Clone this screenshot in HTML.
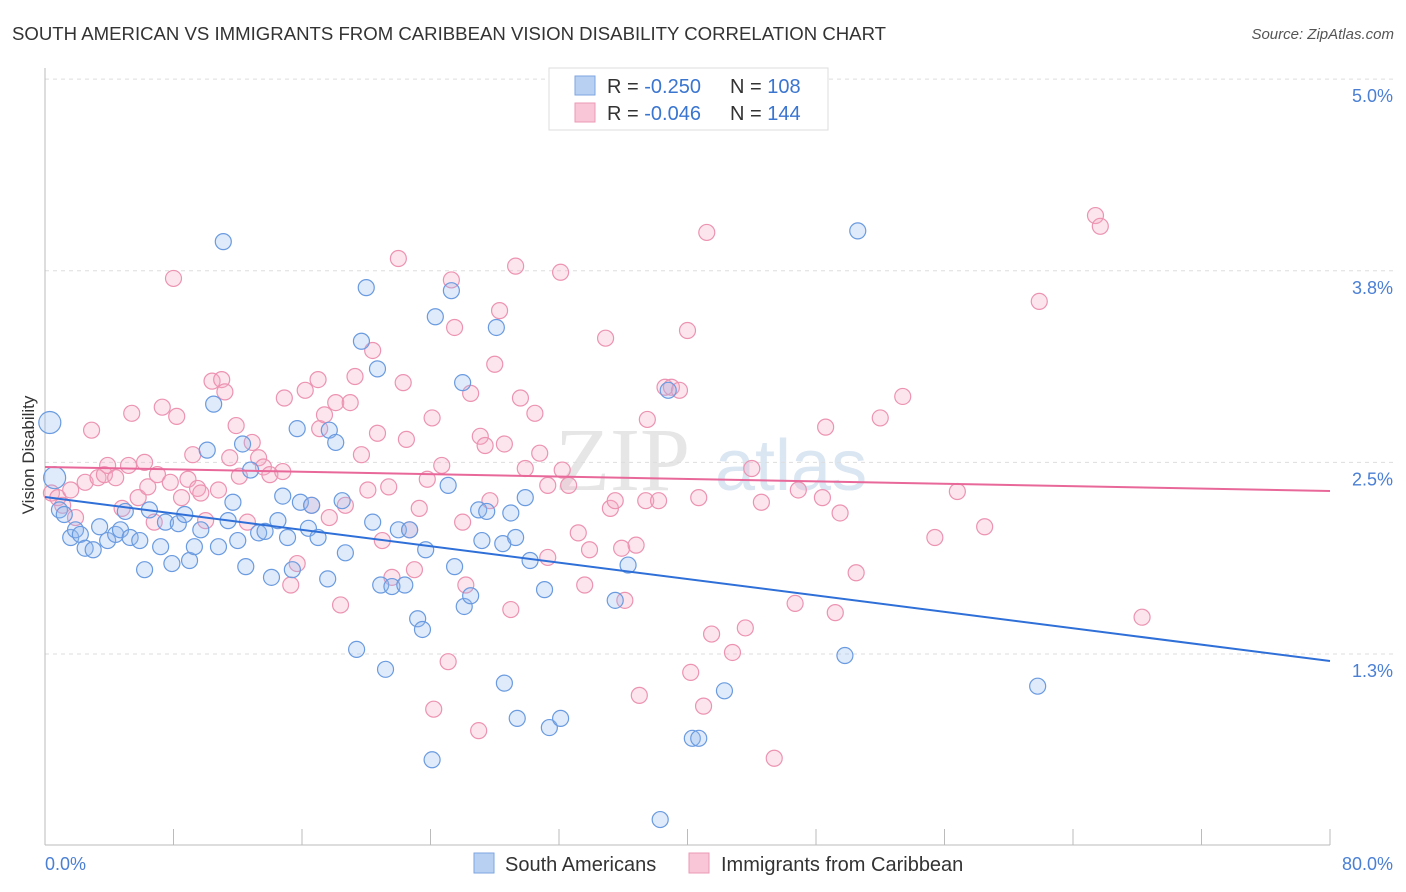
<!DOCTYPE html>
<html><head><meta charset="utf-8"><style>
body{margin:0;background:#fff;font-family:"Liberation Sans",sans-serif}
svg{display:block}
</style></head><body>
<svg id="chart" width="1406" height="892">
<text x="12" y="40" font-size="18.6" fill="#333">SOUTH AMERICAN VS IMMIGRANTS FROM CARIBBEAN VISION DISABILITY CORRELATION CHART</text>
<text x="1394" y="39" font-size="15" fill="#555" font-style="italic" text-anchor="end">Source: ZipAtlas.com</text>
<text x="555" y="490" font-size="90" fill="#e6e6e6" font-family="Liberation Serif">ZIP</text>
<text x="715" y="490" font-size="72" fill="#dbe6f3">atlas</text>
<g id="grid"></g>
<g id="axes"></g>
<g id="pts"></g>
<g id="lines"></g>
<text transform="translate(34,455) rotate(-90)" font-size="17" fill="#333" text-anchor="middle">Vision Disability</text>
<text x="45" y="870" font-size="18" fill="#4a7fd4">0.0%</text>
<text x="1393" y="870" font-size="18" fill="#4a7fd4" text-anchor="end">80.0%</text>
<g>
<rect x="549" y="68" width="279" height="62" fill="#fff" stroke="#ddd"/>
<rect x="575" y="76" width="20" height="19" fill="#b8d1f3" stroke="#7ea6e2"/>
<rect x="575" y="103" width="20" height="19" fill="#f8c6d6" stroke="#ec9ab6"/>
<text x="607" y="93" font-size="20" fill="#333">R = <tspan fill="#3a75d0">-0.250</tspan><tspan x="730">N = </tspan><tspan fill="#3a75d0">108</tspan></text>
<text x="607" y="120" font-size="20" fill="#333">R = <tspan fill="#3a75d0">-0.046</tspan><tspan x="730">N = </tspan><tspan fill="#3a75d0">144</tspan></text>
</g>
<g>
<rect x="474" y="853" width="20" height="20" fill="#b8d1f3" stroke="#7ea6e2"/>
<text x="505" y="871" font-size="20" fill="#333">South Americans</text>
<rect x="689" y="853" width="20" height="20" fill="#f8c6d6" stroke="#ec9ab6"/>
<text x="721" y="871" font-size="20" fill="#333">Immigrants from Caribbean</text>
</g>
</svg>
<script>
const yTicks=[1.25,2.5,3.75,5.0];
const yTickLabels=["1.3%","2.5%","3.8%","5.0%"];
const xTicks=[0,8,16,24,32,40,48,56,64,72,80];
const blueX=[0.3,0.6,0.9,1.2,1.6,1.9,2.2,2.5,3.0,3.4,3.9,4.4,4.7,5.0,5.3,5.9,6.2,6.5,7.2,7.5,7.9,8.3,8.7,9.0,9.3,9.7,10.5,10.1,10.8,11.1,11.4,11.7,12.0,12.5,12.3,12.8,13.3,13.7,14.1,14.5,14.8,15.1,15.4,15.7,15.9,16.4,16.6,17.0,17.6,17.7,18.1,18.7,18.5,19.4,19.7,20.0,20.4,20.7,20.9,21.2,21.6,22.0,22.4,22.7,23.2,23.5,23.7,24.1,24.3,25.1,25.3,25.5,26.0,26.1,26.5,27.0,27.2,27.5,28.1,28.5,28.6,29.0,29.3,29.4,29.9,30.2,31.1,31.4,32.1,35.5,36.3,38.3,38.8,40.3,40.7,42.3,49.8,50.6,61.8];
const blueY=[2.76,2.40,2.19,2.16,2.01,2.06,2.03,1.94,1.93,2.08,1.99,2.03,2.06,2.18,2.01,1.99,1.80,2.19,1.95,2.11,1.84,2.10,2.16,1.86,1.95,2.06,2.88,2.58,1.95,3.94,2.12,2.24,1.99,1.82,2.62,2.45,2.04,2.05,1.75,2.12,2.28,2.01,1.80,2.72,2.24,2.07,2.22,2.01,1.74,2.71,2.63,1.91,2.25,1.28,3.29,3.64,2.11,3.11,1.70,1.15,1.69,2.06,1.70,2.06,1.48,1.41,1.93,0.56,3.45,2.35,3.62,1.82,3.02,1.56,1.63,2.19,1.99,2.18,3.38,1.97,1.06,2.17,2.01,0.83,2.27,1.86,1.67,0.77,0.83,1.60,1.83,0.17,2.97,0.70,0.70,1.01,1.24,4.01,1.04];
const pinkX=[0.4,0.8,1.1,1.6,1.9,2.5,2.9,3.3,3.7,3.9,4.4,4.8,5.2,5.4,5.8,6.2,6.4,6.8,7.0,7.3,7.8,8.0,8.2,8.5,8.9,9.2,9.5,9.7,10.0,10.4,10.8,11.0,11.2,11.5,11.9,12.1,12.6,12.9,13.3,13.6,14.0,14.8,14.9,15.3,15.7,16.2,16.6,17.0,17.1,17.4,17.7,18.1,18.4,18.7,19.0,19.3,19.7,20.1,20.4,20.7,21.0,21.4,21.6,22.0,22.3,22.5,22.7,23.0,23.3,23.8,24.1,24.2,24.7,25.1,25.3,25.5,26.0,26.2,26.5,27.0,27.1,27.4,27.7,28.0,28.3,28.6,29.0,29.3,29.6,29.9,30.5,30.8,31.3,31.3,32.1,32.2,32.6,33.2,33.6,33.9,34.9,35.2,35.5,35.9,36.1,36.8,37.0,37.4,37.5,38.2,38.6,39.0,39.5,40.0,40.2,40.7,41.0,41.2,41.5,42.8,43.6,44.0,44.6,45.4,46.7,46.9,48.4,48.6,49.2,49.5,50.5,52.0,53.4,55.4,56.8,58.5,61.9,65.4,65.7,68.3];
const pinkY=[2.30,2.27,2.22,2.32,2.14,2.37,2.71,2.40,2.42,2.48,2.40,2.20,2.48,2.82,2.27,2.50,2.34,2.11,2.42,2.86,2.37,3.70,2.80,2.27,2.39,2.55,2.33,2.30,2.12,3.03,2.32,3.04,2.96,2.53,2.74,2.41,2.11,2.63,2.53,2.47,2.42,2.44,2.92,1.70,1.84,2.97,2.22,3.04,2.72,2.81,2.14,2.89,1.57,2.22,2.89,3.06,2.55,2.32,3.23,2.69,1.99,2.34,1.75,3.83,3.02,2.65,2.06,1.80,2.20,2.39,2.79,0.89,2.48,1.20,3.69,3.38,2.11,1.70,2.95,0.75,2.67,2.61,2.25,3.14,3.49,2.62,1.54,3.78,2.92,2.46,2.82,2.56,1.88,2.35,3.74,2.45,2.35,2.04,1.70,1.93,3.31,2.20,2.25,1.94,1.60,1.96,0.98,2.25,2.78,2.25,2.99,2.99,2.97,3.36,1.13,2.27,0.91,4.00,1.38,1.26,1.42,2.46,2.24,0.57,1.58,2.32,2.27,2.73,1.52,2.17,1.78,2.79,2.93,2.01,2.31,2.08,3.55,4.11,4.04,1.49];
const blueTrend=[2.274,1.204];
const pinkTrend=[2.470,2.313];
const NS="http://www.w3.org/2000/svg";
const X=v=>45+v/80*1285;
const Y=v=>654-(v-1.25)*153.3;
function mk(tag,at,parent){const e=document.createElementNS(NS,tag);for(const k in at)e.setAttribute(k,at[k]);parent.appendChild(e);return e;}
const grid=document.getElementById('grid'),axes=document.getElementById('axes'),pts=document.getElementById('pts'),lines=document.getElementById('lines');
yTicks.forEach((t,i)=>{
 const l=mk('line',{x1:45,x2:1393,y1:Y(t),y2:Y(t),stroke:'#ddd','stroke-dasharray':'4,4'},grid);
 
 
 const tx=mk('text',{x:1393,y:Y(t)+23,'font-size':18,fill:'#4a7fd4','text-anchor':'end'},grid);
 tx.textContent=yTickLabels[i];
 
 
});
const ya=mk('line',{x1:45,x2:45,y1:68,y2:845,stroke:'#bbb'},axes);


const xa=mk('line',{x1:45,x2:1330,y1:845,y2:845,stroke:'#bbb'},axes);


xTicks.forEach(t=>{
 const l=mk('line',{x1:X(t),x2:X(t),y1:829,y2:845,stroke:'#bbb'},axes);
 
 
});
function dot(x,y,r,fill,stroke,name){
 const c=mk('circle',{cx:X(x),cy:Y(y),r:r,fill:fill,stroke:stroke,'stroke-width':1.2},pts);
 
 
}
pinkX.forEach((x,i)=>dot(x,pinkY[i],8,'rgba(246,170,196,0.3)','#ec93b2','caribbean-point'));
blueX.forEach((x,i)=>dot(x,blueY[i],i<2?11:8,'rgba(150,185,238,0.3)','#6a9be0','south-american-point'));
const bl=mk('line',{x1:X(0),x2:X(80),y1:Y(blueTrend[0]),y2:Y(blueTrend[1]),stroke:'#2f6fd8','stroke-width':2},lines);


const pl=mk('line',{x1:X(0),x2:X(80),y1:Y(pinkTrend[0]),y2:Y(pinkTrend[1]),stroke:'#e8689a','stroke-width':2},lines);


</script>
</body></html>
